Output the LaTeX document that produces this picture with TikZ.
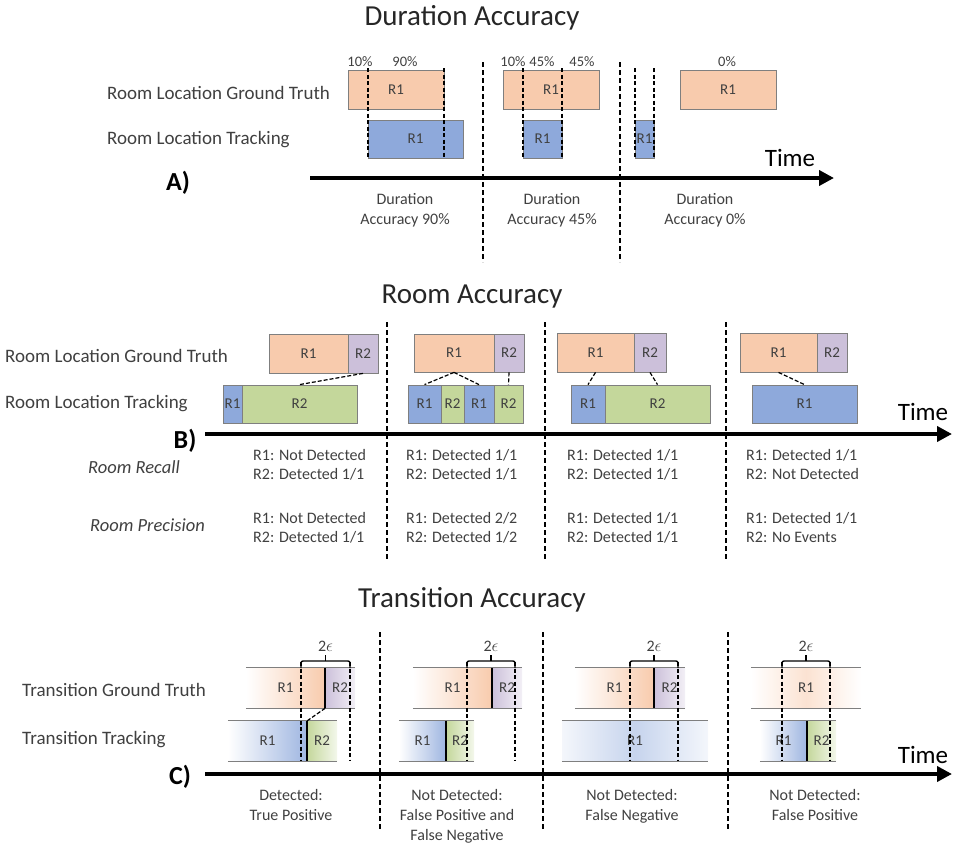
\documentclass[tikz,border=0pt]{standalone}
\usepackage{fontspec}
\setmainfont{Carlito}
\usetikzlibrary{arrows.meta, positioning, calc}

\definecolor{gtorange}{HTML}{F8CBAD}
\definecolor{gtlilac}{HTML}{CCC0DA}
\definecolor{trkblue}{HTML}{8EA9DB}
\definecolor{trkgreen}{HTML}{C4D79B}
\definecolor{edgegray}{HTML}{7F7F7F}
\definecolor{txtgray}{HTML}{404040}

\tikzset{
  room/.style={draw=edgegray, line width=0.8pt, inner sep=0pt, text=txtgray, font=\fontsize{15}{15}\selectfont},
  gtR1/.style={room, fill=gtorange},
  gtR2/.style={room, fill=gtlilac},
  trR1/.style={room, fill=trkblue},
  trR2/.style={room, fill=trkgreen},
  band/.style={inner sep=0pt, text=txtgray, font=\fontsize{15}{15}\selectfont},
  bandedge/.style={draw=edgegray, line width=0.8pt},
  switchline/.style={line width=2pt, black},
  guide/.style={line width=1.1pt, dash pattern=on 4pt off 2.5pt},
  divider/.style={line width=2pt, dash pattern=on 5pt off 3pt},
  link/.style={line width=1.2pt, dash pattern=on 4pt off 2pt},
  bracket/.style={line width=1.4pt},
  timeline/.style={line width=4pt, -{Triangle[length=15pt, width=15pt]}},
  heading/.style={font=\fontsize{29}{29}\selectfont, text=black!85},
  rowlabel/.style={anchor=west, inner sep=0pt, font=\fontsize{19}{19}\selectfont, text=txtgray},
  pct/.style={font=\fontsize{14.5}{14.5}\selectfont, text=txtgray},
  verdict/.style={anchor=north, inner sep=0pt, align=center, font=\fontsize{16}{20}\selectfont, text=txtgray},
  events/.style={anchor=north west, inner sep=0pt, align=left, font=\fontsize{16}{19}\selectfont, text=txtgray},
  metric/.style={anchor=west, inner sep=0pt, font=\fontsize{18.5}{18.5}\selectfont\itshape, text=txtgray},
  panelmark/.style={font=\fontsize{26}{26}\selectfont\bfseries},
  timelabel/.style={font=\fontsize{25}{25}\selectfont}
}

% box from x1 to x2, y1 to y2 (pixels, y down)
\newcommand{\roombox}[7]{%
  \node[#2, minimum width={#4pt-#3pt}, minimum height={#6pt-#5pt}] (#1) at ({(#3+#4)/2},{(#5+#6)/2}) {#7};}
\newcommand{\bandpart}[7]{%
  \node[band, #2, minimum width={#4pt-#3pt}, minimum height={#6pt-#5pt}] (#1) at ({(#3+#4)/2},{(#5+#6)/2}) {#7};}
\newcommand{\epsbrace}[3]{%
  \draw[bracket, rounded corners=2pt] (#1,668) -- (#1,661) -- (#2,661) -- (#2,668);
  \draw[bracket] ({(#1+#2)/2},661) -- ({(#1+#2)/2},655);
  \node[pct, font=\fontsize{16}{16}\selectfont] (#3) at ({(#1+#2)/2},646) {2$\epsilon$};}

\begin{document}
\begin{tikzpicture}[x=1pt, y=-1pt]
\useasboundingbox (0,0) rectangle (954,846);

% ---------------- A) Duration Accuracy
\node[heading] (titleA) at (472,18) {Duration Accuracy};
\node[rowlabel] (gtA) at (107,93) {Room Location Ground Truth};
\node[rowlabel] (trA) at (107,140) {Room Location Tracking};

\roombox{a1g}{gtR1}{348}{444}{70}{109}{R1}
\roombox{a1t}{trR1}{368}{463}{120}{158}{R1}
\roombox{a2g}{gtR1}{503}{599}{70}{109}{R1}
\roombox{a2t}{trR1}{523}{562}{120}{158}{R1}
\roombox{a3t}{trR1}{635}{654}{120}{158}{R1}
\roombox{a3g}{gtR1}{680}{776}{70}{109}{R1}

\foreach \gx in {368,444,523,562,635,654}
  \draw[guide] (\gx,68) -- (\gx,158);

\node[pct] (pa1) at (360,62) {10\%};
\node[pct] (pa2) at (405,62) {90\%};
\node[pct] (pb1) at (513,62) {10\%};
\node[pct] (pb2) at (542,62) {45\%};
\node[pct] (pb3) at (582,62) {45\%};
\node[pct] (pc1) at (727,62) {0\%};

\draw[divider] (483,62) -- (483,262);
\draw[divider] (620,62) -- (620,262);

\coordinate (axA0) at (310,178);
\coordinate (axA1) at (834,178);
\draw[timeline] (axA0) -- (axA1);
\node[timelabel] (timeA) at (790,158) {Time};
\node[panelmark] (markA) at (178,183) {A)};

\node[verdict] (durA1) at (405,193) {Duration\\Accuracy 90\%};
\node[verdict] (durA2) at (552,193) {Duration\\Accuracy 45\%};
\node[verdict] (durA3) at (705,193) {Duration\\Accuracy 0\%};

% ---------------- B) Room Accuracy
\node[heading] (titleB) at (472,297) {Room Accuracy};
\node[rowlabel] (gtB) at (5,356) {Room Location Ground Truth};
\node[rowlabel] (trB) at (5,404) {Room Location Tracking};

\roombox{b1g1}{gtR1}{269}{348}{334}{373}{R1}
\roombox{b1g2}{gtR2}{348}{378}{334}{373}{R2}
\roombox{b1t1}{trR1}{223}{242}{385}{423}{R1}
\roombox{b1t2}{trR2}{242}{357}{385}{423}{R2}
\draw[link] (b1g2.south) -- (b1t2.north);

\roombox{b2g1}{gtR1}{414}{494}{334}{372}{R1}
\roombox{b2g2}{gtR2}{494}{524}{334}{372}{R2}
\roombox{b2t1}{trR1}{408}{441}{385}{423}{R1}
\roombox{b2t2}{trR2}{441}{464}{385}{423}{R2}
\roombox{b2t3}{trR1}{464}{494}{385}{423}{R1}
\roombox{b2t4}{trR2}{494}{523}{385}{423}{R2}
\draw[link] (b2g1.south) -- (b2t1.north);
\draw[link] (b2g1.south) -- (b2t3.north);
\draw[link] (b2g2.south) -- (b2t4.north);

\roombox{b3g1}{gtR1}{557}{634}{333}{372}{R1}
\roombox{b3g2}{gtR2}{634}{666}{333}{372}{R2}
\roombox{b3t1}{trR1}{571}{605}{385}{423}{R1}
\roombox{b3t2}{trR2}{605}{710}{385}{423}{R2}
\draw[link] (b3g1.south) -- (b3t1.north);
\draw[link] (b3g2.south) -- (b3t2.north);

\roombox{b4g1}{gtR1}{740}{817}{333}{372}{R1}
\roombox{b4g2}{gtR2}{817}{847}{333}{372}{R2}
\roombox{b4t1}{trR1}{752}{857}{385}{423}{R1}
\draw[link] (b4g1.south) -- (b4t1.north);

\foreach \dx in {387,545,726}
  \draw[divider] (\dx,322) -- (\dx,560);

\coordinate (axB0) at (205,434);
\coordinate (axB1) at (952,434);
\draw[timeline] (axB0) -- (axB1);
\node[timelabel] (timeB) at (923,412) {Time};
\node[panelmark] (markB) at (185,441) {B)};

\node[metric] (recall) at (88,467) {Room Recall};
\node[metric] (precision) at (90,525) {Room Precision};

\node[events] (rec1) at (253,449) {R1: Not Detected\\R2: Detected 1/1};
\node[events] (rec2) at (406,449) {R1: Detected 1/1\\R2: Detected 1/1};
\node[events] (rec3) at (567,449) {R1: Detected 1/1\\R2: Detected 1/1};
\node[events] (rec4) at (746,449) {R1: Detected 1/1\\R2: Not Detected};
\node[events] (prec1) at (253,512) {R1: Not Detected\\R2: Detected 1/1};
\node[events] (prec2) at (406,512) {R1: Detected 2/2\\R2: Detected 1/2};
\node[events] (prec3) at (567,512) {R1: Detected 1/1\\R2: Detected 1/1};
\node[events] (prec4) at (746,512) {R1: Detected 1/1\\R2: No Events};

% ---------------- C) Transition Accuracy
\node[heading] (titleC) at (472,600) {Transition Accuracy};
\node[rowlabel] (gtC) at (22,690) {Transition Ground Truth};
\node[rowlabel] (trC) at (22,740) {Transition Tracking};

% panel 1
\bandpart{c1g1}{left color=white, right color=gtorange}{246}{325}{668}{708}{R1}
\bandpart{c1g2}{left color=gtlilac, right color=gtlilac!25}{325}{355}{668}{708}{R2}
\bandpart{c1t1}{left color=white, right color=trkblue!85}{228}{307}{721}{761}{R1}
\bandpart{c1t2}{left color=trkgreen, right color=trkgreen!20}{307}{337}{721}{761}{R2}
\draw[bandedge] (c1g1.north west) -- (c1g2.north east) (c1g1.south west) -- (c1g2.south east);
\draw[bandedge] (c1t1.north west) -- (c1t2.north east) (c1t1.south west) -- (c1t2.south east);
\draw[switchline] (c1g1.north east) -- (c1g1.south east);
\draw[switchline] (c1t1.north east) -- (c1t1.south east);
\draw[link] (c1g1.south east) -- (c1t1.north east);
\epsbrace{301}{350}{eps1}
\foreach \gx in {301,350}
  \draw[guide] (\gx,662) -- (\gx,760);

% panel 2
\bandpart{c2g1}{left color=white, right color=gtorange}{413}{492}{668}{708}{R1}
\bandpart{c2g2}{left color=gtlilac, right color=gtlilac!25}{492}{522}{668}{708}{R2}
\bandpart{c2t1}{left color=white, right color=trkblue!85}{399}{446}{721}{761}{R1}
\bandpart{c2t2}{left color=trkgreen, right color=trkgreen!20}{446}{474}{721}{761}{R2}
\draw[bandedge] (c2g1.north west) -- (c2g2.north east) (c2g1.south west) -- (c2g2.south east);
\draw[bandedge] (c2t1.north west) -- (c2t2.north east) (c2t1.south west) -- (c2t2.south east);
\draw[switchline] (c2g1.north east) -- (c2g1.south east);
\draw[switchline] (c2t1.north east) -- (c2t1.south east);
\epsbrace{467}{515}{eps2}
\foreach \gx in {467,515}
  \draw[guide] (\gx,662) -- (\gx,760);

% panel 3
\bandpart{c3g1}{left color=white, right color=gtorange}{575}{654}{668}{708}{R1}
\bandpart{c3g2}{left color=gtlilac, right color=gtlilac!25}{654}{685}{668}{708}{R2}
\bandpart{c3t1}{left color=trkblue!10, right color=trkblue!10, middle color=trkblue!50}{562}{708}{721}{761}{R1}
\draw[bandedge] (c3g1.north west) -- (c3g2.north east) (c3g1.south west) -- (c3g2.south east);
\draw[bandedge] (c3t1.north west) -- (c3t1.north east) (c3t1.south west) -- (c3t1.south east);
\draw[switchline] (c3g1.north east) -- (c3g1.south east);
\epsbrace{630}{678}{eps3}
\foreach \gx in {630,678}
  \draw[guide] (\gx,662) -- (\gx,760);

% panel 4
\bandpart{c4g1}{left color=white, right color=white, middle color=gtorange!55}{751}{861}{668}{708}{R1}
\bandpart{c4t1}{left color=white, right color=trkblue!85}{760}{807}{721}{761}{R1}
\bandpart{c4t2}{left color=trkgreen, right color=trkgreen!20}{807}{836}{721}{761}{R2}
\draw[bandedge] (c4g1.north west) -- (c4g1.north east) (c4g1.south west) -- (c4g1.south east);
\draw[bandedge] (c4t1.north west) -- (c4t2.north east) (c4t1.south west) -- (c4t2.south east);
\draw[switchline] (c4t1.north east) -- (c4t1.south east);
\epsbrace{782}{830}{eps4}
\foreach \gx in {782,830}
  \draw[guide] (\gx,662) -- (\gx,760);

\foreach \dx in {380,543,728}
  \draw[divider] (\dx,632) -- (\dx,830);

\coordinate (axC0) at (205,774);
\coordinate (axC1) at (952,774);
\draw[timeline] (axC0) -- (axC1);
\node[timelabel] (timeC) at (923,755) {Time};
\node[panelmark] (markC) at (180,777) {C)};

\node[verdict] (ver1) at (291,789) {Detected:\\True Positive};
\node[verdict] (ver2) at (457,789) {Not Detected:\\False Positive and\\False Negative};
\node[verdict] (ver3) at (632,789) {Not Detected:\\False Negative};
\node[verdict] (ver4) at (815,789) {Not Detected:\\False Positive};
\end{tikzpicture}
\end{document}
